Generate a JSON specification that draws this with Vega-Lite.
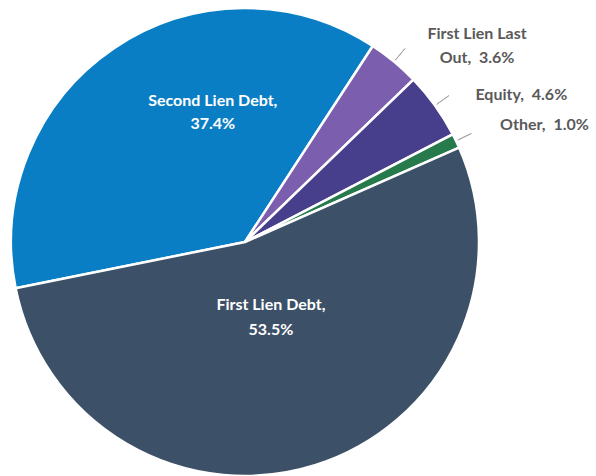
{
  "$schema": "https://vega.github.io/schema/vega-lite/v6.json",
  "autosize": "none",
  "width": 490,
  "height": 468,
  "padding": {"left": 0, "top": 8, "right": 106, "bottom": 0},
  "background": "white",
  "config": {"view": {"stroke": null}},
  "data": {
    "values": [
      {"cat": "Second Lien Debt", "pct": 37.4, "rank": 1, "label": "Second Lien Debt,\n37.4%"},
      {"cat": "First Lien Last Out", "pct": 3.6, "rank": 2, "label": "First Lien Last\nOut,\u00a0 3.6%"},
      {"cat": "Equity", "pct": 4.6, "rank": 3, "label": "Equity,\u00a0 4.6%"},
      {"cat": "Other", "pct": 1.0, "rank": 4, "label": "Other,\u00a0 1.0%"},
      {"cat": "First Lien Debt", "pct": 53.5, "rank": 5, "label": "First Lien Debt,\n53.5%"}
    ]
  },
  "layer": [
    {
      "mark": {"type": "arc", "stroke": "white", "strokeWidth": 2.5},
      "encoding": {
        "theta": {"field": "pct", "type": "quantitative", "stack": true,
          "scale": {"domain": [0, 100.1], "range": [4.5134, 10.7966]}},
        "order": {"field": "rank", "type": "quantitative"},
        "color": {"field": "cat", "type": "nominal", "legend": null,
          "scale": {"domain": ["Second Lien Debt", "First Lien Last Out", "Equity", "Other", "First Lien Debt"],
                    "range": ["#0A7EC4", "#7B5EAE", "#473E8C", "#277A4B", "#3C5167"]}}
      }
    },
    {
      "transform": [
        {"window": [{"op": "sum", "field": "pct", "as": "cum"}], "sort": [{"field": "rank"}]},
        {"calculate": "datum.cum - datum.pct / 2", "as": "mid"},
        {"filter": "datum.rank >= 2 && datum.rank <= 4"}
      ],
      "mark": {"type": "arc", "innerRadius": 236, "outerRadius": 251, "stroke": "#A6A6A6", "strokeWidth": 1, "fillOpacity": 0},
      "encoding": {
        "theta": {"field": "mid", "type": "quantitative", "stack": null},
        "theta2": {"field": "mid"}
      }
    },
    {
      "mark": {"type": "text", "radius": 134, "dx": 43, "dy": -30, "font": "Lato", "fontSize": 16, "fontWeight": "bold", "fill": "white", "lineBreak": "\n", "lineHeight": 23, "align": "center", "baseline": "middle"},
      "encoding": {
        "theta": {"field": "pct", "type": "quantitative", "stack": true},
        "order": {"field": "rank", "type": "quantitative"},
        "detail": {"field": "cat"},
        "text": {"condition": {"test": "datum.cat === 'Second Lien Debt'", "field": "label"}, "value": ""}
      }
    },
    {
      "mark": {"type": "text", "radius": 79, "dx": 2, "dy": -12, "font": "Lato", "fontSize": 16, "fontWeight": "bold", "fill": "white", "lineBreak": "\n", "lineHeight": 25, "align": "center", "baseline": "middle"},
      "encoding": {
        "theta": {"field": "pct", "type": "quantitative", "stack": true},
        "order": {"field": "rank", "type": "quantitative"},
        "detail": {"field": "cat"},
        "text": {"condition": {"test": "datum.cat === 'First Lien Debt'", "field": "label"}, "value": ""}
      }
    },
    {
      "mark": {"type": "text", "radius": 270, "dx": 60, "dy": 0, "font": "Lato", "fontSize": 16, "fontWeight": "bold", "fill": "#595959", "lineBreak": "\n", "lineHeight": 24, "align": "center", "baseline": "middle"},
      "encoding": {
        "theta": {"field": "pct", "type": "quantitative", "stack": true},
        "order": {"field": "rank", "type": "quantitative"},
        "detail": {"field": "cat"},
        "text": {"condition": {"test": "datum.cat === 'First Lien Last Out'", "field": "label"}, "value": ""}
      }
    },
    {
      "mark": {"type": "text", "radius": 270, "dx": 57, "dy": 10, "font": "Lato", "fontSize": 16, "fontWeight": "bold", "fill": "#595959", "align": "center", "baseline": "middle"},
      "encoding": {
        "theta": {"field": "pct", "type": "quantitative", "stack": true},
        "order": {"field": "rank", "type": "quantitative"},
        "detail": {"field": "cat"},
        "text": {"condition": {"test": "datum.cat === 'Equity'", "field": "label"}, "value": ""}
      }
    },
    {
      "mark": {"type": "text", "radius": 270, "dx": 56, "dy": 0, "font": "Lato", "fontSize": 16, "fontWeight": "bold", "fill": "#595959", "align": "center", "baseline": "middle"},
      "encoding": {
        "theta": {"field": "pct", "type": "quantitative", "stack": true},
        "order": {"field": "rank", "type": "quantitative"},
        "detail": {"field": "cat"},
        "text": {"condition": {"test": "datum.cat === 'Other'", "field": "label"}, "value": ""}
      }
    }
  ]
}
